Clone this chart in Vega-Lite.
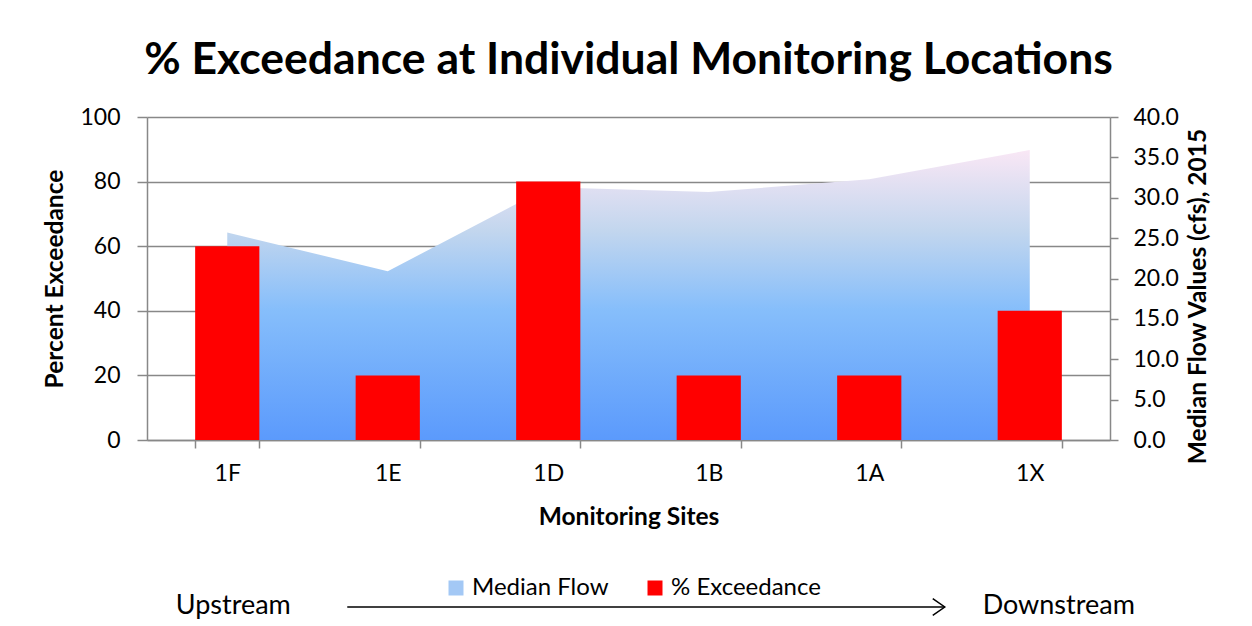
{
  "$schema": "https://vega.github.io/schema/vega-lite/v6.json",
  "autosize": "none",
  "width": 963,
  "height": 323,
  "padding": {"left": 147, "top": 117, "right": 142, "bottom": 186},
  "background": "white",
  "config": {
    "font": "Lato",
    "view": {"stroke": null},
    "axis": {"labelFont": "Lato", "titleFont": "Lato", "labelColor": "#000000", "titleColor": "#000000", "labelFontSize": 23, "titleFontSize": 24.5, "titleFontWeight": "bold", "domainColor": "#888888", "tickColor": "#888888", "gridColor": "#888888", "domainWidth": 1.5, "tickWidth": 1.5, "gridWidth": 1.5}
  },
  "title": {"text": "% Exceedance at Individual Monitoring Locations", "font": "Lato", "fontSize": 44.5, "fontWeight": "bold", "color": "#000000", "anchor": "middle", "offset": 23},
  "datasets": {
    "sites": [
      {"site": "1F", "exceedance": 60, "flow": 25.7, "series": "% Exceedance"},
      {"site": "1E", "exceedance": 20, "flow": 20.9, "series": "% Exceedance"},
      {"site": "1D", "exceedance": 80, "flow": 31.3, "series": "% Exceedance"},
      {"site": "1B", "exceedance": 20, "flow": 30.7, "series": "% Exceedance"},
      {"site": "1A", "exceedance": 20, "flow": 32.3, "series": "% Exceedance"},
      {"site": "1X", "exceedance": 40, "flow": 35.9, "series": "% Exceedance"}
    ],
    "ends": [
      {"end": "Upstream", "site": "1F"},
      {"end": "Downstream", "site": "1X"}
    ]
  },
  "encoding": {
    "x": {
      "field": "site", "type": "nominal", "sort": null,
      "scale": {"paddingInner": 0.6, "paddingOuter": 0.3},
      "axis": {"title": "Monitoring Sites", "labelAngle": 0, "tickBand": "extent", "tickSize": 8, "labelPadding": 14, "titlePadding": 20, "grid": false}
    }
  },
  "layer": [
    {
      "data": {"name": "sites"},
      "mark": {"type": "area", "color": {"gradient": "linear", "x1": 0, "y1": 1, "x2": 0, "y2": 0, "stops": [{"offset": 0, "color": "#5b9afc"}, {"offset": 0.45, "color": "#86befb"}, {"offset": 0.72, "color": "#c2d6ee"}, {"offset": 1, "color": "#f9e7f5"}]}},
      "encoding": {
        "y": {"field": "flow", "type": "quantitative", "scale": {"domain": [0, 40]}, "axis": {"orient": "right", "title": "Median Flow Values (cfs), 2015", "titleAngle": -90, "titleBaseline": "top", "titleY": 179, "values": [0, 5, 10, 15, 20, 25, 30, 35, 40], "format": ".1f", "grid": false, "tickSize": 8, "labelPadding": 15, "titlePadding": 8}}
      }
    },
    {
      "layer": [
        {
          "data": {"name": "sites"},
          "mark": {"type": "bar", "stroke": null},
          "encoding": {
            "y": {"field": "exceedance", "type": "quantitative", "scale": {"domain": [0, 100]}, "axis": {"orient": "left", "title": "Percent Exceedance", "values": [0, 20, 40, 60, 80, 100], "grid": true, "tickSize": 10, "labelPadding": 17, "titlePadding": 12}},
            "color": {
              "field": "series", "type": "nominal",
              "scale": {"domain": ["Median Flow", "% Exceedance"], "range": ["#a3c8f5", "#ff0000"]},
              "legend": {
                "title": null, "orient": "none", "legendX": 297, "legendY": 459, "direction": "horizontal",
                "symbolType": "square", "symbolSize": 225, "symbolStrokeWidth": 0, "symbolOpacity": 1,
                "labelFont": "Lato", "labelFontSize": 24, "labelColor": "#000000", "labelOffset": 4, "columnPadding": 34
              }
            }
          }
        },
        {
          "data": {"name": "ends"},
          "transform": [{"filter": "datum.end === 'Upstream'"}],
          "mark": {"type": "text", "fontSize": 27, "font": "Lato", "color": "#000000", "dx": 6},
          "encoding": {"y": {"datum": -51.4, "type": "quantitative"}, "text": {"field": "end"}}
        },
        {
          "data": {"name": "ends"},
          "transform": [{"filter": "datum.end === 'Downstream'"}],
          "mark": {"type": "text", "fontSize": 27, "font": "Lato", "color": "#000000", "dx": 29},
          "encoding": {"y": {"datum": -51.4, "type": "quantitative"}, "text": {"field": "end"}}
        },
        {
          "data": {"values": [{"from": "1F", "to": "1X"}]},
          "mark": {"type": "rule", "color": "#000000", "strokeWidth": 1.5, "xOffset": 120, "x2Offset": -85},
          "encoding": {"x": {"field": "from"}, "x2": {"field": "to"}, "y": {"datum": -51.7, "type": "quantitative"}}
        },
        {
          "data": {"values": [{"to": "1X"}]},
          "mark": {"type": "point", "shape": "M-1,-0.7L0,0L-1,0.7", "filled": false, "stroke": "#000000", "strokeWidth": 1.5, "size": 576, "xOffset": -85, "opacity": 1},
          "encoding": {"x": {"field": "to"}, "y": {"datum": -51.7, "type": "quantitative"}}
        }
      ]
    }
  ],
  "resolve": {"scale": {"y": "independent"}}
}
